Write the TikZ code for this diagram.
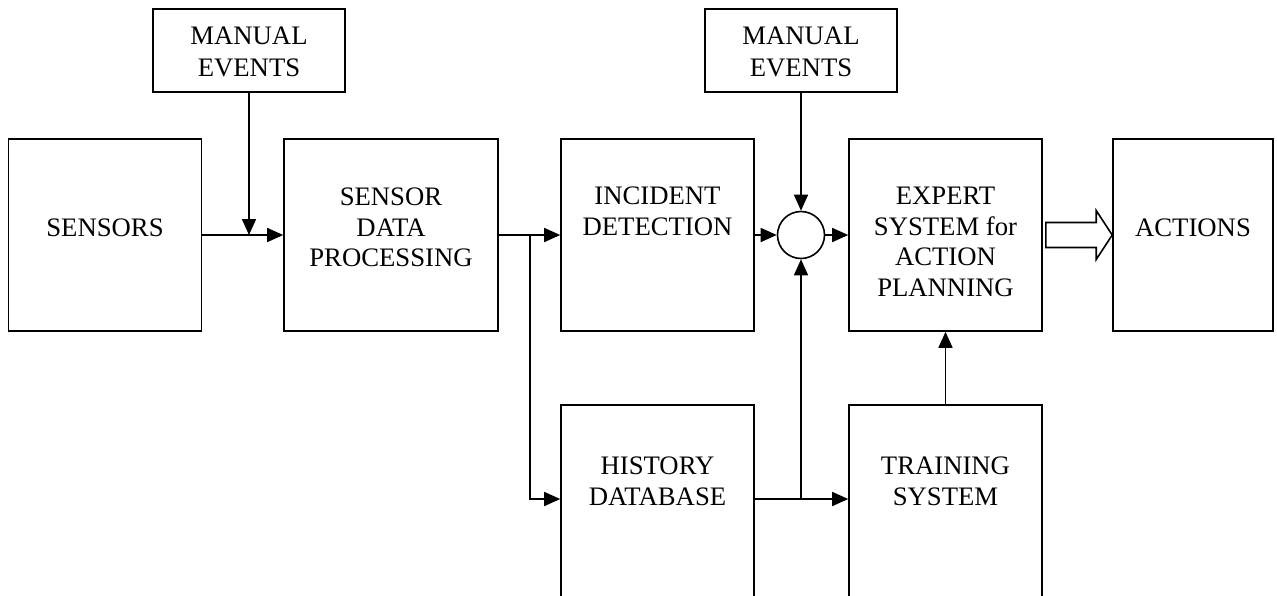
\documentclass[tikz,border=0pt]{standalone}
\usepackage{fontspec}
\setmainfont{Liberation Serif}
\usetikzlibrary{arrows.meta,calc}
\begin{document}
\begin{tikzpicture}[x=1pt,y=-1pt,
  box/.style={draw,line width=1.6pt,rectangle,inner sep=0pt,minimum width=193pt,minimum height=192pt},
  mebox/.style={draw,line width=1.6pt,rectangle,inner sep=0pt,minimum width=192pt,minimum height=83pt},
  lbl/.style={anchor=north,inner sep=0pt,align=center,font=\fontsize{26.7}{30.5}\selectfont},
  melbl/.style={lbl,font=\fontsize{26.7}{32}\selectfont},
  conn/.style={line width=1.6pt},
  arr/.style={conn,-{Triangle[length=16pt,width=14pt]}},
  sumnode/.style={draw,line width=1.6pt,circle,inner sep=0pt,minimum size=47pt},
  hollow/.style={draw,line width=1.6pt,fill=white,line join=miter}]
\useasboundingbox (0,0) rectangle (1277,595);
% boxes
\node[box] (sens) at (105,235) {};
\node[box,minimum width=214pt] (sdp) at (391,235) {};
\node[box] (inc) at (657.5,235) {};
\node[box] (exp) at (945.5,235) {};
\node[box,minimum width=160pt] (act) at (1193,235) {};
\node[mebox] (me1) at (249,50.5) {};
\node[mebox] (me2) at (801,50.5) {};
\node[box,minimum height=193pt] (hist) at (657.5,501.5) {};
\node[box,minimum height=193pt] (train) at (945.5,501.5) {};
\node[sumnode] (sum) at (801,235) {};
% texts
\node[lbl] (sens-t) at (105,219) {SENSORS};
\node[lbl] (sdp-t) at (391,188) {SENSOR\\DATA\\PROCESSING};
\node[lbl] (inc-t) at (657.5,187) {INCIDENT\\DETECTION};
\node[lbl] (exp-t) at (945.5,187) {EXPERT\\SYSTEM for\\ACTION\\PLANNING};
\node[lbl] (act-t) at (1193,219) {ACTIONS};
\node[melbl] (me1-t) at (249,26.5) {MANUAL\\EVENTS};
\node[melbl] (me2-t) at (801,26.5) {MANUAL\\EVENTS};
\node[lbl] (hist-t) at (657.5,457) {HISTORY\\DATABASE};
\node[lbl] (train-t) at (945.5,457) {TRAINING\\SYSTEM};
% connectors
\coordinate (j1) at (me1.south |- sens.east);
\draw[arr] (sens.east) -- (sdp.west);
\draw[arr] (me1.south) -- (j1);
\coordinate (b1) at (530,235);
\draw[arr] (sdp.east) -- (inc.west);
\coordinate (hin) at ([yshift=2.5pt]hist.west);
\coordinate (hout) at ([yshift=2.5pt]hist.east);
\coordinate (tin) at ([yshift=2.5pt]train.west);
\draw[arr] (b1) |- (hin);
\draw[arr] (inc.east) -- (sum.west);
\draw[arr] (me2.south) -- (sum.north);
\draw[arr] (sum.east) -- (exp.west);
\draw[arr] (hout) -- (tin);
\coordinate (j2) at (sum.south |- hin);
\draw[arr] (j2) -- (sum.south);
\draw[arr] (train.north) -- (exp.south);
% hollow arrow
\draw[hollow] ($(exp.east)+(3,-12.5)$) -- ($(act.west)+(-16,-12.5)$) -- ($(act.west)+(-16,-24.5)$)
  -- (act.west) -- ($(act.west)+(-16,24.5)$) -- ($(act.west)+(-16,12.5)$) -- ($(exp.east)+(3,12.5)$) -- cycle;
\end{tikzpicture}
\end{document}
